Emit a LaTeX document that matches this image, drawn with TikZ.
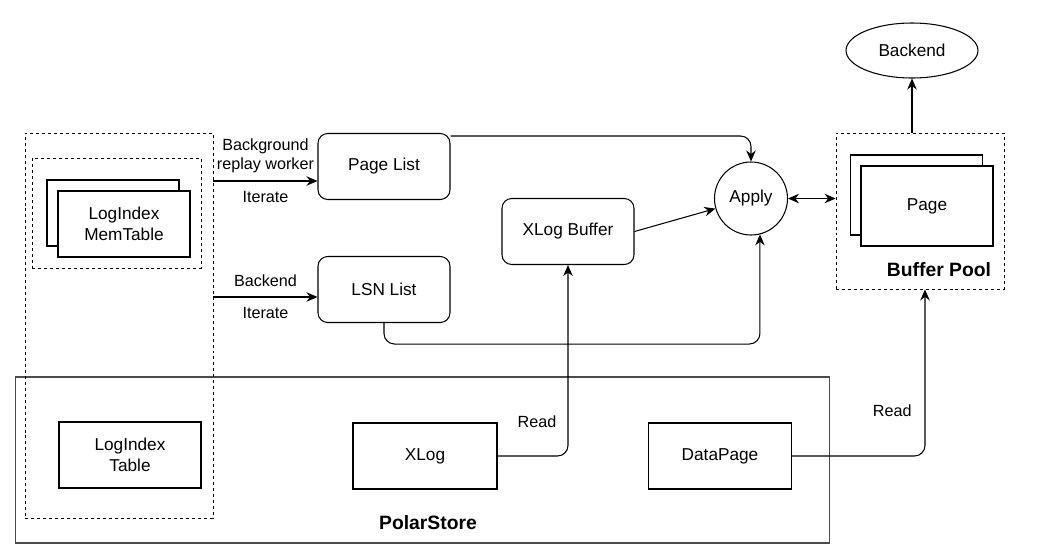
\documentclass[tikz,border=0pt]{standalone}
\usepackage{fontspec}
\setmainfont{Liberation Sans}
\usetikzlibrary{shapes.geometric, arrows.meta, positioning, calc}

\begin{document}
\begin{tikzpicture}[
    x=0.02cm, y=-0.02cm,
    line width=0.6pt,
    font=\fontsize{9.8}{11.7}\selectfont,
    box/.style={rectangle, draw, fill=white, minimum width=2.64cm, minimum height=1.32cm, align=center},
    rbox/.style={box, rounded corners=5.5pt},
    grp/.style={rectangle, draw, dash pattern=on 1.7pt off 1.7pt, line width=0.5pt},
    arr/.style={-{Stealth[length=2.2mm, width=1.9mm]}},
    lbl/.style={font=\fontsize{9.2}{11}\selectfont, align=center},
    title/.style={font=\bfseries\fontsize{11}{13}\selectfont},
  ]
    \useasboundingbox (0,0) rectangle (1046,552);

    % PolarStore
    \node[rectangle, draw=black!70, minimum width=16.3cm, minimum height=3.32cm] (ps) at (422.5,460) {};
    \node[title] (pst) at (428,523) {PolarStore};
    \node[box, minimum width=2.84cm] (lit) at (130,455) {LogIndex\\Table};
    \node[box, minimum width=2.88cm] (xl) at (425,456) {XLog};
    \node[box, minimum width=2.86cm] (dp) at (720,456) {DataPage};

    % LogIndex
    \node[grp, minimum width=3.76cm, minimum height=7.7cm] (li) at (119,325.5) {};
    \node[grp, minimum width=3.38cm, minimum height=2.2cm] (mt) at (116.5,213) {};
    \node[box] (mt1) at (113,213) {};
    \node[box] (mt2) at (124,224) {LogIndex\\MemTable};

    % Lists
    \node[rbox] (pl) at (384,166.5) {Page List};
    \node[rbox] (ls) at (384,289.5) {LSN List};
    \node[rbox] (xb) at (568,231.5) {XLog Buffer};
    \draw[arr] (li.east |- 0,181) -- (pl.west |- 0,181)
      node[lbl, midway, above=1pt] {Background\\replay worker}
      node[lbl, midway, below=2pt] {Iterate};
    \draw[arr] (li.east |- 0,297) -- (ls.west |- 0,297)
      node[lbl, midway, above=2pt] {Backend}
      node[lbl, midway, below=2pt] {Iterate};

    % Apply
    \node[circle, draw, minimum size=1.46cm, inner sep=0pt] (ap) at (751,198.5) {Apply};
    \draw[arr, rounded corners=6pt] ($(pl.north east)+(0,3)$) -| (ap.north);
    \draw[arr] (xb.east) -- (ap);
    \draw[arr, rounded corners=6pt] (ls.south) -- ++(0,21) -| (ap.-76);
    \draw[arr, rounded corners=6pt] (xl.east) -| (xb.south)
      node[lbl, pos=0.59, left=3pt] {Read};

    % Buffer Pool
    \node[grp, minimum width=3.36cm, minimum height=3.12cm] (bp) at (920,211) {};
    \node[box, minimum height=1.6cm] (pg1) at (916.5,195) {};
    \node[box, minimum height=1.6cm] (pg2) at (927,206) {Page};
    \node[title] (bpt) at (939,270) {Buffer Pool};
    \draw[{Stealth[length=2.2mm, width=1.9mm]}-{Stealth[length=2.2mm, width=1.9mm]}] (ap) -- (bp.west |- ap);
    \draw[arr, rounded corners=6pt] (dp.east) -| ($(bp.south)+(5,0)$)
      node[lbl, pos=0.635, left=4pt] {Read};

    % Backend
    \node[ellipse, draw, minimum width=2.64cm, minimum height=1.1cm, inner sep=0pt] (be) at (912,50.5) {Backend};
    \draw[arr] (bp.north -| be) -- (be);
  \end{tikzpicture}
\end{document}
